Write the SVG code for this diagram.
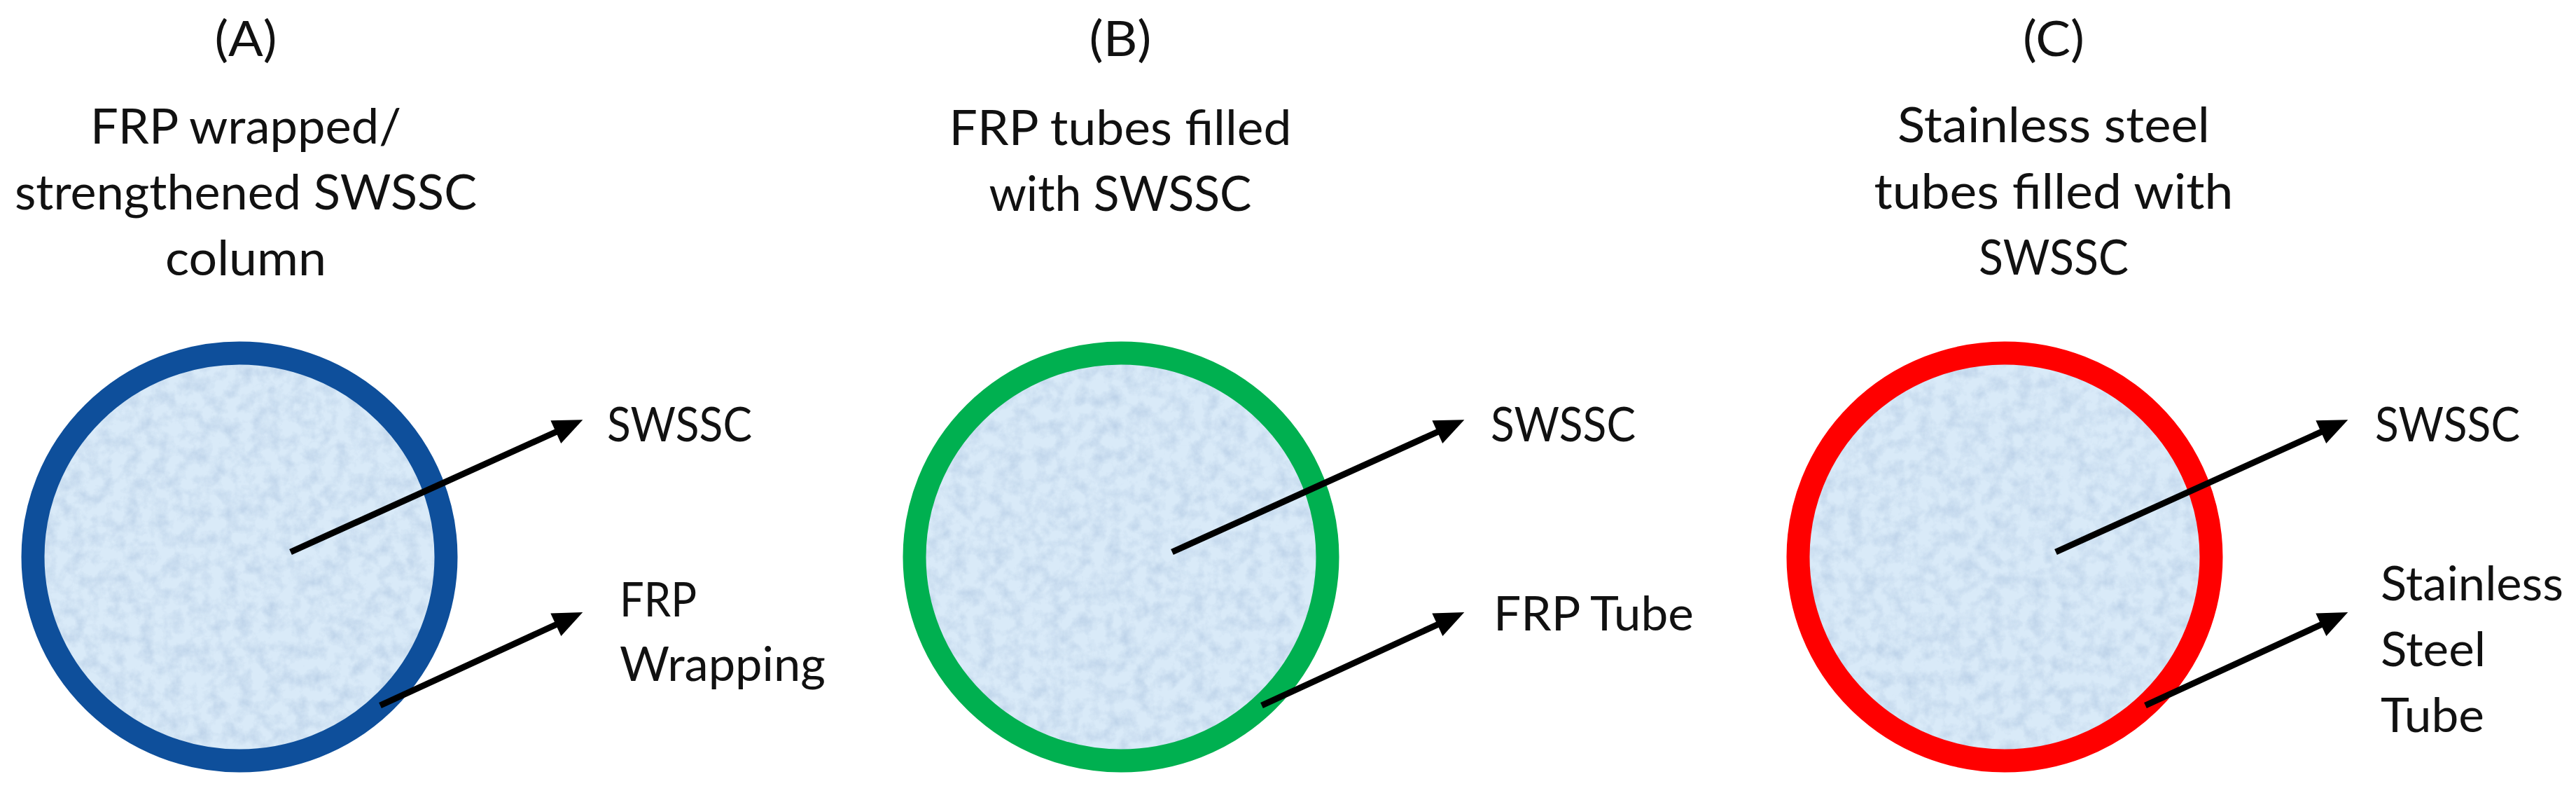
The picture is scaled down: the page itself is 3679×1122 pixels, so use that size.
<svg xmlns="http://www.w3.org/2000/svg" width="3679" height="1122" viewBox="0 0 3679 1122">
<style>
.t{font-family:Lato,"Open Sans","Liberation Sans",sans-serif;fill:#111;}
.title{font-size:70px;text-anchor:middle;}
.lab{font-size:67px;}
.fill{fill:#D9EAF8;}
.tex{fill:#000;filter:url(#tex);}
.ring{fill:none;stroke-width:33;}
.arr{stroke:#000;stroke-width:9;fill:none;marker-end:url(#ah);}
</style>
<defs>
<marker id="ah" markerUnits="strokeWidth" markerWidth="5" markerHeight="4" refX="1" refY="2" orient="auto" overflow="visible">
<path d="M0,0 L4.7,2 L0,4 z" fill="#000"/>
</marker>
<filter id="tex" x="0" y="0" width="100%" height="100%" color-interpolation-filters="sRGB">
<feTurbulence type="fractalNoise" baseFrequency="0.05" numOctaves="4" seed="7" result="n"/>
<feColorMatrix in="n" type="matrix" values="0 0 0 0 0.70  0 0 0 0 0.79  0 0 0 0 0.89  0 0 0 1.3 -0.5" result="c"/>
<feComposite in="c" in2="SourceGraphic" operator="in"/>
</filter>
</defs>
<rect width="3679" height="1122" fill="#fff"/>

<g id="panelA">
<g id="titleA" class="t title">
<text x="351" y="80" textLength="89" lengthAdjust="spacingAndGlyphs">(A)</text>
<text x="351" y="205" textLength="444" lengthAdjust="spacingAndGlyphs">FRP wrapped/</text>
<text x="351" y="299" textLength="660" lengthAdjust="spacingAndGlyphs">strengthened SWSSC</text>
<text x="351" y="393" textLength="230" lengthAdjust="spacingAndGlyphs">column</text>
</g>
<g id="circleA">
<ellipse class="fill" cx="342" cy="795" rx="295" ry="291"/>
<ellipse class="tex" cx="342" cy="795" rx="295" ry="291"/>
<ellipse class="ring" cx="342" cy="795" rx="295" ry="291" stroke="#0E4F9B"/>
</g>
<g id="labelsA" class="t lab">
<text x="867" y="630" textLength="207" lengthAdjust="spacingAndGlyphs">SWSSC</text>
<text x="885" y="880" textLength="110" lengthAdjust="spacingAndGlyphs">FRP</text>
<text x="885" y="972" textLength="294" lengthAdjust="spacingAndGlyphs">Wrapping</text>
</g>
</g>

<g id="panelB">
<g id="titleB" class="t title">
<text x="1600" y="80" textLength="89" lengthAdjust="spacingAndGlyphs">(B)</text>
<text x="1600" y="207" textLength="489" lengthAdjust="spacingAndGlyphs">FRP tubes filled</text>
<text x="1600" y="301" textLength="375" lengthAdjust="spacingAndGlyphs">with SWSSC</text>
</g>
<g id="circleB">
<ellipse class="fill" cx="1601" cy="795" rx="295" ry="291"/>
<ellipse class="tex" cx="1601" cy="795" rx="295" ry="291"/>
<ellipse class="ring" cx="1601" cy="795" rx="295" ry="291" stroke="#00B050"/>
</g>
<g id="labelsB" class="t lab">
<text x="2129" y="630" textLength="207" lengthAdjust="spacingAndGlyphs">SWSSC</text>
<text x="2133" y="900" textLength="286" lengthAdjust="spacingAndGlyphs">FRP Tube</text>
</g>
</g>

<g id="panelC">
<g id="titleC" class="t title">
<text x="2933" y="80" textLength="88" lengthAdjust="spacingAndGlyphs">(C)</text>
<text x="2933" y="203" textLength="446" lengthAdjust="spacingAndGlyphs">Stainless steel</text>
<text x="2933" y="298" textLength="513" lengthAdjust="spacingAndGlyphs">tubes filled with</text>
<text x="2933" y="392" textLength="214" lengthAdjust="spacingAndGlyphs">SWSSC</text>
</g>
<g id="circleC">
<ellipse class="fill" cx="2863" cy="795" rx="295" ry="291"/>
<ellipse class="tex" cx="2863" cy="795" rx="295" ry="291"/>
<ellipse class="ring" cx="2863" cy="795" rx="295" ry="291" stroke="#FF0000"/>
</g>
<g id="labelsC" class="t lab">
<text x="3392" y="630" textLength="207" lengthAdjust="spacingAndGlyphs">SWSSC</text>
<text x="3400" y="857" textLength="261" lengthAdjust="spacingAndGlyphs">Stainless</text>
<text x="3400" y="951" textLength="150" lengthAdjust="spacingAndGlyphs">Steel</text>
<text x="3400" y="1045" textLength="148" lengthAdjust="spacingAndGlyphs">Tube</text>
</g>
</g>

<g id="connectors">
<path class="arr" d="M415,788 L802,613"/>
<path class="arr" d="M543,1007 L802,888"/>
<path class="arr" d="M1674,788 L2061,613"/>
<path class="arr" d="M1802,1007 L2061,888"/>
<path class="arr" d="M2936,788 L3323,613"/>
<path class="arr" d="M3064,1007 L3323,888"/>
</g>
</svg>
